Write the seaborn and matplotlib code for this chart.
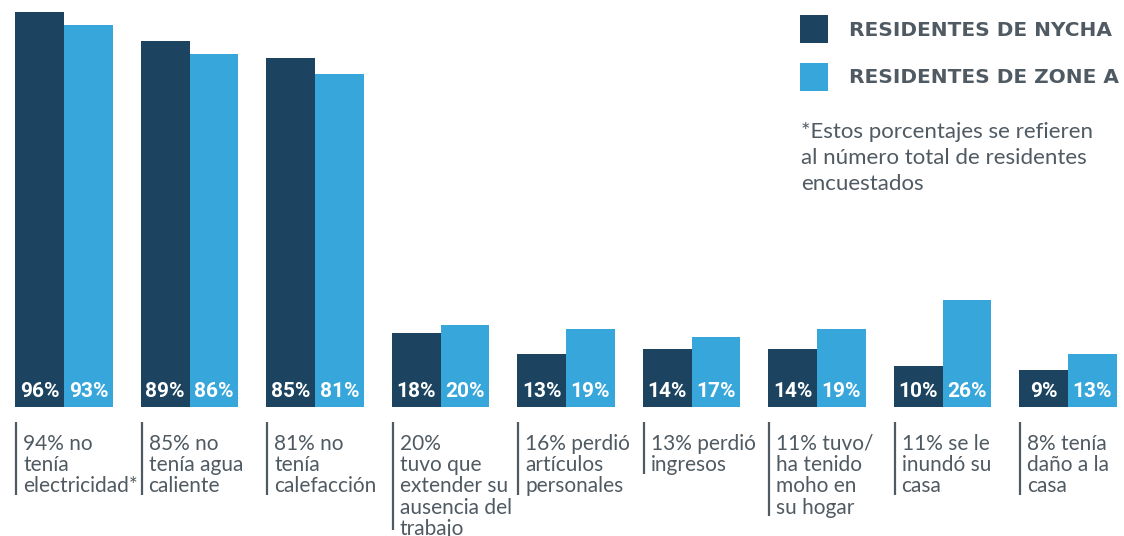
import matplotlib
matplotlib.use("Agg")
import matplotlib.pyplot as plt
import matplotlib.transforms as mtransforms
import seaborn as sns
import pandas as pd

# ---- data ----
categories = [
    "94% no\ntenía\nelectricidad*",
    "85% no\ntenía agua\ncaliente",
    "81% no\ntenía\ncalefacción",
    "20%\ntuvo que\nextender su\nausencia del\ntrabajo",
    "16% perdió\nartículos\npersonales",
    "13% perdió\ningresos",
    "11% tuvo/\nha tenido\nmoho en\nsu hogar",
    "11% se le\ninundó su\ncasa",
    "8% tenía\ndaño a la\ncasa",
]
nycha = [96, 89, 85, 18, 13, 14, 14, 10, 9]
zone_a = [93, 86, 81, 20, 19, 17, 19, 26, 13]
series_names = ["RESIDENTES DE NYCHA", "RESIDENTES DE ZONE A"]
note_lines = ["*Estos porcentajes se refieren",
              "al número total de residentes",
              "encuestados"]

dark = "#1c4460"
light = "#36a6db"
gray = "#505a62"

df = pd.DataFrame({
    "cat": categories * 2,
    "serie": [series_names[0]] * len(categories) + [series_names[1]] * len(categories),
    "valor": nycha + zone_a,
})

sns.set_theme(style="white")
plt.rcParams["font.family"] = ["Lato", "DejaVu Sans"]

W, H = 1124, 536
fig = plt.figure(figsize=(W / 100, H / 100), dpi=100)
ax = fig.add_axes([0, 129 / H, 1, 407 / H])

bar_w = 0.78
sns.barplot(data=df, x="cat", y="valor", hue="serie", order=categories,
            hue_order=series_names, palette=[dark, light], width=bar_w,
            linewidth=0, saturation=1, ax=ax, legend=True)

unit = 125.5
px_per_pct = 4.11
ax.set_xlim(-64 / unit, (W - 64) / unit)
ax.set_ylim(0, 407 / px_per_pct)
ax.set_axis_off()

# value labels inside bars
for cont in ax.containers:
    for bar in cont:
        v = bar.get_height()
        ax.text(bar.get_x() + bar.get_width() / 2, 10 / px_per_pct,
                f"{int(round(v))}%", ha="center", va="baseline",
                color="white", fontsize=15, fontweight="bold",
                family=["Roboto", "DejaVu Sans"])

# category labels below
trans = mtransforms.blended_transform_factory(ax.transData, fig.transFigure)
for i, lab in enumerate(categories):
    lines = lab.split("\n")
    n = len(lines)
    x0 = i - bar_w / 2 + 1 / unit
    y_top = 1 - 422 / H
    y_bot = 1 - min(453 + 21 * (n - 1), 530) / H
    ax.plot([x0, x0], [y_top, y_bot], transform=trans, color=gray, lw=1.6,
            clip_on=False, solid_capstyle="butt")
    for k, ln in enumerate(lines):
        ax.text(x0 + 7 / unit, 1 - (450 + 21.2 * k) / H, ln, transform=trans,
                ha="left", va="baseline", fontsize=15, color=gray)

# legend
leg = ax.get_legend()
handles = leg.legend_handles
leg.remove()
fig.legend(handles, series_names, loc="upper left",
           bbox_to_anchor=(800 / W, 1 - 15 / H), frameon=False,
           borderpad=0, borderaxespad=0, handlelength=1.39, handleheight=1.766,
           handletextpad=1.04, labelspacing=0.97,
           prop={"family": "DejaVu Sans", "weight": "bold", "size": 14.5},
           labelcolor=gray)

for k, ln in enumerate(note_lines):
    fig.text(801 / W, 1 - (138 + 26 * k) / H, ln, ha="left", va="baseline",
             fontsize=16, color=gray)

fig.savefig("out.png", dpi=100)
